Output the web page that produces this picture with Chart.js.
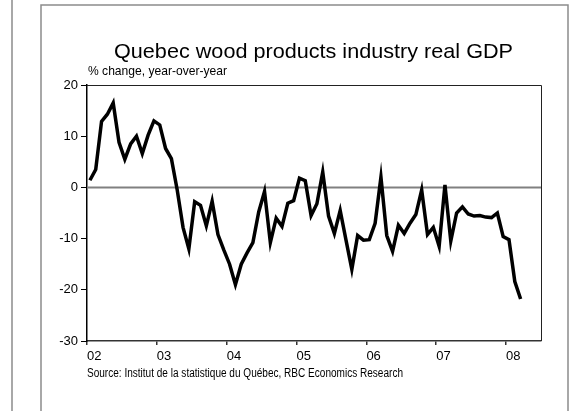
<!DOCTYPE html>
<html>
<head>
<meta charset="utf-8">
<script src="https://cdn.jsdelivr.net/npm/chart.js@4/dist/chart.umd.min.js"></script>
<style>
  body { margin: 0; background: #fff; }
  canvas { display: block; }
</style>
</head>
<body>
<canvas id="myChart" width="574" height="411"></canvas>
<script>
// Quebec wood products industry real GDP, % change y/y, monthly Jan 2002 - Mar 2008
const yearLabels = ['02', '03', '04', '05', '06', '07', '08'];

const gdpChange = [
    1.4, 3.5, 12.9, 14.3, 16.5, 8.8, 5.5, 8.5, 10.0, 6.6, 10.2, 13.0,
    12.2, 7.6, 5.6, -0.5, -7.8, -12.0, -2.8, -3.5, -7.5, -2.7, -9.2, -12.2,
    -15.0, -19.0, -15.0, -12.8, -10.8, -4.8, -0.8, -10.8, -6.0, -7.6, -3.1, -2.6,
    1.8, 1.3, -5.5, -3.2, 3.0, -5.6, -9.0, -4.5, -10.3, -16.0, -9.4, -10.3,
    -10.2, -7.0, 2.0, -9.4, -12.5, -7.4, -9.0, -7.0, -5.3, -0.5, -9.2, -7.8,
    -11.5, 0.5, -10.5, -5.0, -3.8, -5.2, -5.6, -5.5, -5.8, -5.9, -5.0, -9.6,
    -10.2, -18.4, -21.8
];

const titleText = 'Quebec wood products industry real GDP';
const subtitleText = '% change, year-over-year';
const sourceText = 'Source: Institut de la statistique du Québec, RBC Economics Research';

// points sit mid-month on a month-index axis
const points = gdpChange.map((v, i) => ({ x: i + 0.5, y: v }));

function fitText(ctx, text, x, y, width, font) {
    ctx.save();
    ctx.font = font;
    const w = ctx.measureText(text).width;
    ctx.translate(x, y);
    ctx.scale(width / w, 1);
    ctx.fillText(text, 0, 0);
    ctx.restore();
}

const decorPlugin = {
    id: 'decor',
    beforeDatasetsDraw(chart) {
        const ctx = chart.ctx;
        const a = chart.chartArea;
        const y0 = chart.scales.y.getPixelForValue(0);
        ctx.save();
        // zero line
        ctx.strokeStyle = '#808080';
        ctx.lineWidth = 2;
        ctx.beginPath();
        ctx.moveTo(a.left, y0);
        ctx.lineTo(a.right, y0);
        ctx.stroke();
        // top and right plot border
        ctx.strokeStyle = '#222';
        ctx.lineWidth = 1;
        ctx.beginPath();
        ctx.moveTo(a.left, a.top + 0.5);
        ctx.lineTo(a.right + 0.5, a.top + 0.5);
        ctx.lineTo(a.right + 0.5, a.bottom);
        ctx.stroke();
        ctx.restore();
    },
    afterDraw(chart) {
        const ctx = chart.ctx;
        ctx.save();
        // outer frame
        ctx.strokeStyle = '#8c8c8c';
        ctx.lineWidth = 1.5;
        ctx.beginPath();
        ctx.moveTo(12, 0);
        ctx.lineTo(12, 411);
        ctx.moveTo(41, 411);
        ctx.lineTo(41, 5);
        ctx.lineTo(568, 5);
        ctx.lineTo(568, 411);
        ctx.stroke();

        ctx.fillStyle = '#000';
        ctx.textBaseline = 'alphabetic';
        ctx.textAlign = 'left';
        fitText(ctx, titleText, 114, 58, 399, '21px "Liberation Sans"');
        fitText(ctx, subtitleText, 88, 75, 139, '13px "Liberation Sans"');
        fitText(ctx, sourceText, 87, 377, 316, '12px "Liberation Sans"');
        ctx.restore();
    }
};

const data = {
    datasets: [{
        label: 'Real GDP',
        data: points,
        borderColor: '#000',
        borderWidth: 3.5,
        borderJoinStyle: 'miter',
        pointRadius: 0,
        tension: 0,
        fill: false
    }]
};

const config = {
    type: 'line',
    data: data,
    options: {
        responsive: false,
        animation: false,
        layout: { padding: { left: 0, right: 33, top: 85, bottom: 0 } },
        plugins: {
            legend: { display: false },
            title: { display: false },
            tooltip: { enabled: false }
        },
        scales: {
            x: {
                type: 'linear',
                min: 0,
                max: 78,
                afterFit(scale) { scale.height = 70; },
                border: { display: true, color: '#333', width: 1.5 },
                grid: { drawOnChartArea: false, tickLength: 4, color: '#333', lineWidth: 1.5 },
                ticks: {
                    stepSize: 12,
                    includeBounds: false,
                    autoSkip: false,
                    maxRotation: 0,
                    align: 'start',
                    padding: 4,
                    color: '#000',
                    font: { family: 'Liberation Sans', size: 13 },
                    callback: (v) => yearLabels[v / 12] ?? ''
                }
            },
            y: {
                min: -30,
                max: 20,
                afterFit(scale) { scale.width = 87; },
                border: { display: true, color: '#000', width: 1.5 },
                grid: { drawOnChartArea: false, tickLength: 6, color: '#000', lineWidth: 1 },
                ticks: {
                    stepSize: 10,
                    padding: 3,
                    color: '#000',
                    font: { family: 'Liberation Sans', size: 13 }
                }
            }
        }
    },
    plugins: [decorPlugin]
};

const myChart = new Chart(
    document.getElementById('myChart'),
    config
);
</script>
</body>
</html>
